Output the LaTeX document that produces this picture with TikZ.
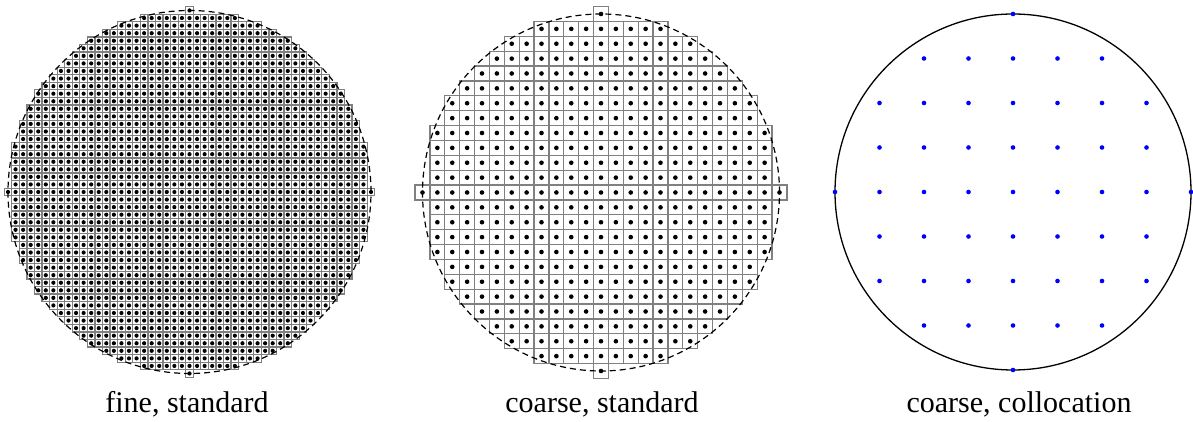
\documentclass[tikz,border=0pt]{standalone}
\usepackage{fontspec}
\setmainfont{Liberation Serif}
\begin{document}
\begin{tikzpicture}[x=0.5pt,y=0.5pt]
    \colorlet{cellgray}{black!50}
    \colorlet{colblue}{blue}
    \tikzset{
        cellbox/.style={draw=cellgray, line width=0.6pt},
        gridpt/.style={fill=black},
        colpt/.style={fill=colblue},
        bdry/.style={draw=black, line width=0.6pt, dash pattern=on 3pt off 2pt},
        caption/.style={anchor=base, inner sep=0pt, font=\fontsize{15}{18}\selectfont}
    }
    \useasboundingbox (0,0) rectangle (1193,422);

    % fine, standard
    \begin{scope}[shift={(189.5,230)}]
        \pgfmathsetmacro{\h}{181.5/24}
        \foreach \i in {-24,...,24}{
            \foreach \j in {-24,...,24}{
                \pgfmathtruncatemacro{\rr}{\i*\i+\j*\j}
                \ifnum\rr<577
                    \draw[cellbox] ({(\i-0.5)*\h},{(\j-0.5)*\h}) rectangle ++(\h,\h);
                    \fill[gridpt] ({\i*\h},{\j*\h}) circle (2.1);
                \fi
            }
        }
        \draw[bdry] (0,0) circle (181.5);
    \end{scope}

    % coarse, standard
    \begin{scope}[shift={(601,229.5)}]
        \pgfmathsetmacro{\h}{178.5/12}
        \foreach \i in {-12,...,12}{
            \foreach \j in {-12,...,12}{
                \pgfmathtruncatemacro{\rr}{\i*\i+\j*\j}
                \ifnum\rr<145
                    \draw[cellbox] ({(\i-0.5)*\h},{(\j-0.5)*\h}) rectangle ++(\h,\h);
                    \fill[gridpt] ({\i*\h},{\j*\h}) circle (2.3);
                \fi
            }
        }
        \draw[bdry] (0,0) circle (178.5);
    \end{scope}

    % coarse, collocation
    \begin{scope}[shift={(1013,230)}]
        \pgfmathsetmacro{\h}{178/4}
        \draw[black, line width=0.65pt] (0,0) circle (178);
        \foreach \i in {-4,...,4}{
            \foreach \j in {-4,...,4}{
                \pgfmathtruncatemacro{\rr}{\i*\i+\j*\j}
                \ifnum\rr<17
                    \fill[colpt] ({\i*\h},{\j*\h}) circle (2.3);
                \fi
            }
        }
    \end{scope}

    % captions
    \node[caption] (lblfine) at (187,9) {fine, standard};
    \node[caption] (lblcoarse) at (602,9) {coarse, standard};
    \node[caption] (lblcoll) at (1019,9) {coarse, collocation};
\end{tikzpicture}
\end{document}
